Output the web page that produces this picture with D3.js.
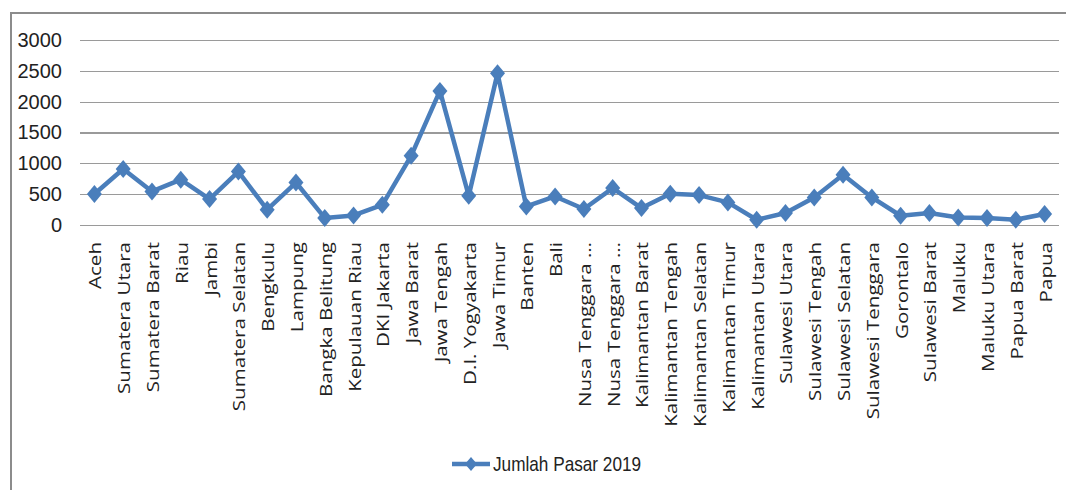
<!DOCTYPE html>
<html>
<head>
<meta charset="utf-8">
<script src="https://cdn.jsdelivr.net/npm/d3@7"></script>
<style>
  html, body { margin: 0; padding: 0; background: #fff; }
  svg { display: block; }
</style>
</head>
<body>
<svg id="chart" width="1066" height="490"></svg>
<script>
// Provinces of Indonesia
const provinces = [
  "Aceh", "Sumatera Utara", "Sumatera Barat", "Riau", "Jambi", "Sumatera Selatan",
  "Bengkulu", "Lampung", "Bangka Belitung", "Kepulauan Riau", "DKI Jakarta",
  "Jawa Barat", "Jawa Tengah", "D.I. Yogyakarta", "Jawa Timur", "Banten", "Bali",
  "Nusa Tenggara …", "Nusa Tenggara …", "Kalimantan Barat", "Kalimantan Tengah",
  "Kalimantan Selatan", "Kalimantan Timur", "Kalimantan Utara", "Sulawesi Utara",
  "Sulawesi Tengah", "Sulawesi Selatan", "Sulawesi Tenggara", "Gorontalo",
  "Sulawesi Barat", "Maluku", "Maluku Utara", "Papua Barat", "Papua"
];

// Number of markets per province, 2019
const jumlahPasar2019 = [
  502, 908, 544, 735, 421, 867,
  248, 689, 115, 155, 328,
  1121, 2175, 474, 2459, 301, 463,
  259, 598, 275, 506,
  485, 366, 86, 194,
  447, 814, 447, 150,
  194, 123, 113, 86, 178
];

const yTicks = [0, 500, 1000, 1500, 2000, 2500, 3000];
const seriesName = "Jumlah Pasar 2019";

const svg = d3.select("#chart");
const blue = "#4A7EBB";

// chart frame (top and left edges)
svg.append("line").attr("x1", 11).attr("x2", 1066).attr("y1", 13).attr("y2", 13)
  .attr("stroke", "#8c8c8c").attr("stroke-width", 2);
svg.append("line").attr("x1", 11).attr("x2", 11).attr("y1", 12).attr("y2", 490)
  .attr("stroke", "#8c8c8c").attr("stroke-width", 2);

const plot = { left: 80, right: 1059, top: 40, bottom: 225 };

const x = d3.scaleBand()
  .domain(d3.range(provinces.length))
  .range([plot.left, plot.right]);

const y = d3.scaleLinear()
  .domain([0, 3000])
  .range([plot.bottom, plot.top]);

// horizontal gridlines + y labels
const yAxis = d3.axisLeft(y)
  .tickValues(yTicks)
  .tickSize(-(plot.right - plot.left))
  .tickPadding(18)
  .tickFormat(d3.format("d"));

const gy = svg.append("g")
  .attr("transform", `translate(${plot.left},0)`)
  .call(yAxis);
gy.select(".domain").remove();
gy.selectAll(".tick line").attr("stroke", "#9a9a9a").attr("stroke-width", 1.2)
  .attr("shape-rendering", "crispEdges");
gy.selectAll(".tick text")
  .attr("fill", "#222")
  .style("font-family", "'Liberation Sans Narrow', 'Liberation Sans', sans-serif")
  .style("font-size", "20px");

// category labels along the bottom
const xAxis = d3.axisBottom(x)
  .tickSize(0)
  .tickFormat(i => provinces[i]);

const gx = svg.append("g")
  .attr("transform", `translate(0,${plot.bottom})`)
  .call(xAxis);
gx.select(".domain").remove();
gx.selectAll(".tick text")
  .attr("fill", "#222")
  .style("font-family", "'Open Sans', sans-serif")
  .style("font-size", "17px")
  .attr("text-anchor", "end")
  .attr("dy", null)
  .attr("y", 0)
  .attr("transform", "translate(7,17) rotate(-90) scale(1.21,1)");

// series line
const line = d3.line()
  .x((d, i) => x(i) + x.bandwidth() / 2)
  .y(d => y(d));

svg.append("path")
  .datum(jumlahPasar2019)
  .attr("fill", "none")
  .attr("stroke", blue)
  .attr("stroke-width", 4.5)
  .attr("stroke-linejoin", "round")
  .attr("d", line);

// diamond markers
const diamond = "M0,-9L7.5,0L0,9L-7.5,0Z";
svg.append("g").selectAll("path")
  .data(jumlahPasar2019)
  .join("path")
  .attr("d", diamond)
  .attr("fill", blue)
  .attr("transform", (d, i) => `translate(${x(i) + x.bandwidth() / 2},${y(d)})`);

// legend
const lg = svg.append("g").attr("transform", "translate(452,464)");
lg.append("line").attr("x1", 0).attr("x2", 38).attr("y1", 0).attr("y2", 0)
  .attr("stroke", blue).attr("stroke-width", 4.5);
lg.append("path").attr("d", "M0,-7L6,0L0,7L-6,0Z").attr("fill", blue)
  .attr("transform", "translate(19,0)");
lg.append("text")
  .attr("transform", "translate(41,7) scale(0.86,1)")
  .attr("fill", "#222")
  .style("font-family", "'Liberation Sans Narrow', 'Liberation Sans', sans-serif")
  .style("font-size", "20px")
  .text(seriesName);
</script>
</body>
</html>
